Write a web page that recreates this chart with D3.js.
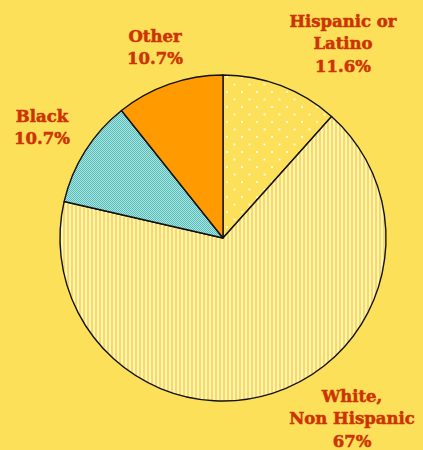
<!DOCTYPE html>
<html><head><meta charset="utf-8">
<script src="https://cdn.jsdelivr.net/npm/d3@7"></script>
<style>html,body{margin:0;padding:0;background:#FCE05A;}svg{display:block;}</style>
</head><body>
<svg id="c" width="423" height="450"></svg>
<script>
const categories = ["Hispanic or Latino", "White, Non Hispanic", "Black", "Other"];
const values = [11.6, 67, 10.7, 10.7];
const labelLines = [["Hispanic or", "Latino", "11.6%"], ["White,", "Non Hispanic", "67%"], ["Black", "10.7%"], ["Other", "10.7%"]];
const labelPos = [[343, 27], [352, 402], [42, 122], [155, 42]];

const W = 423, H = 450, cx = 223, cy = 238, R = 163;
const svg = d3.select("#c");
svg.append("rect").attr("width", W).attr("height", H).attr("fill", "#FCE05A");
const defs = svg.append("defs");

// dots pattern
const pd = defs.append("pattern").attr("id", "dots").attr("patternUnits", "userSpaceOnUse").attr("width", 15).attr("height", 15);
pd.append("rect").attr("width", 15).attr("height", 15).attr("fill", "#FCE05A");
[[3, 3], [10.5, 10.5]].forEach(([x, y]) => pd.append("rect").attr("x", x).attr("y", y).attr("width", 2).attr("height", 2).attr("fill", "#FFF8D8"));
// stripes pattern
const ps = defs.append("pattern").attr("id", "stripes").attr("patternUnits", "userSpaceOnUse").attr("width", 4).attr("height", 4);
ps.append("rect").attr("width", 4).attr("height", 4).attr("fill", "#FBD95C");
ps.append("rect").attr("x", 2).attr("width", 2).attr("height", 4).attr("fill", "#FFF4BE");
// checker pattern
const pc = defs.append("pattern").attr("id", "check").attr("patternUnits", "userSpaceOnUse").attr("width", 2).attr("height", 2);
pc.append("rect").attr("width", 2).attr("height", 2).attr("fill", "#4FBDBD");
pc.append("rect").attr("x", 0).attr("y", 0).attr("width", 1).attr("height", 1).attr("fill", "#B4E4DC");
pc.append("rect").attr("x", 1).attr("y", 1).attr("width", 1).attr("height", 1).attr("fill", "#B4E4DC");

const fills = ["url(#dots)", "url(#stripes)", "url(#check)", "#FF9A00"];
const pie = d3.pie().sort(null).value(d => d)(values);
const arc = d3.arc().innerRadius(0).outerRadius(R);
const g = svg.append("g").attr("transform", `translate(${cx},${cy})`);
g.selectAll("path").data(pie).join("path")
  .attr("d", arc).attr("fill", (d, i) => fills[i])
  .attr("stroke", "#111").attr("stroke-width", 1.4).attr("stroke-linejoin", "round");

const lab = svg.append("g").attr("font-family", "DejaVu Serif").attr("font-weight", "bold")
  .attr("font-size", 16.5).attr("fill", "#CC3300").attr("stroke", "#CC3300").attr("stroke-width", 0.5)
  .attr("text-anchor", "middle");
labelLines.forEach((lines, i) => {
  const t = lab.append("text").attr("x", labelPos[i][0]).attr("y", labelPos[i][1]);
  lines.forEach((l, j) => t.append("tspan").attr("x", labelPos[i][0]).attr("dy", j ? 22.3 : 0).text(l));
});
</script>
</body></html>
